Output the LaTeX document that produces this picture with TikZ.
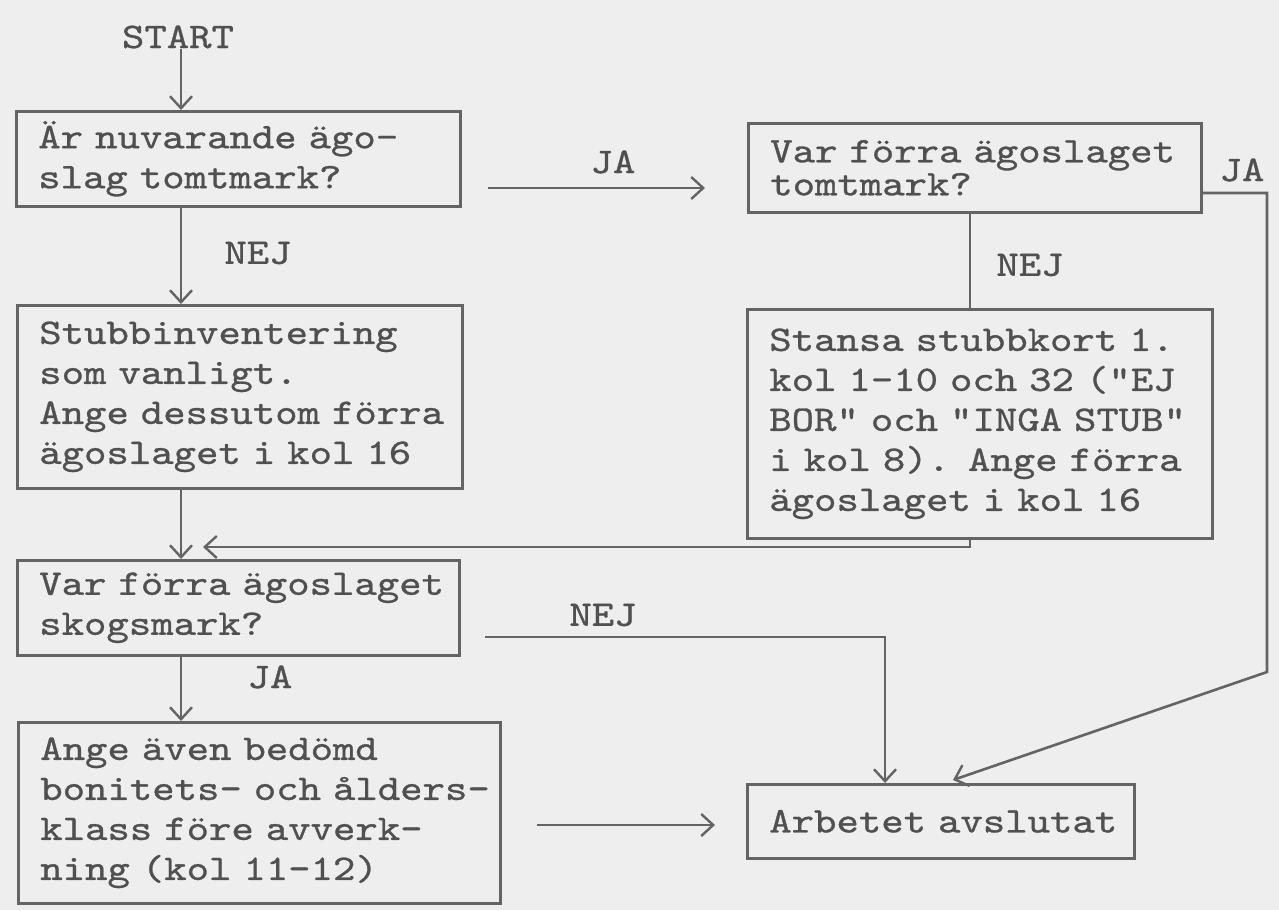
\documentclass[tikz,border=0pt]{standalone}
\usepackage{fontspec}
\usetikzlibrary{arrows.meta}
\newfontfamily\tw{lmmono10-regular.otf}[FakeStretch=1.185, FakeBold=0.8]
\newcommand\typeline[1]{\mbox{#1}}
\definecolor{bgc}{RGB}{238,238,238}
\definecolor{linec}{RGB}{100,100,100}
\definecolor{textc}{RGB}{80,80,80}
\begin{document}
\begin{tikzpicture}[x=1pt,y=-1pt,
  every node/.style={text=textc},
  txt/.style={font=\tw\fontsize{36}{40}\selectfont, inner sep=0pt},
  box/.style={draw=linec, line width=2.6pt, font=\tw\fontsize{36}{40}\selectfont,
    align=left, inner xsep=22pt, inner ysep=0pt, anchor=north west},
  conn/.style={draw=linec, line width=2.6pt},
  arr/.style={conn, -{Straight Barb[length=12pt,width=22pt,line width=2.4pt]}}]
\fill[bgc] (0,0) rectangle (1279,910);
\useasboundingbox (0,0) rectangle (1279,910);

% nodes
\node[txt] (start) at (178,37) {START};
\node[box, text width=400pt, minimum height=95pt] (b1) at (15,110)
  {\typeline{Är nuvarande ägo-}\\\typeline{slag tomtmark?}};
\node[box, text width=409pt, minimum height=89pt,
  font=\tw\fontsize{36}{33}\selectfont] (b2) at (747,122)
  {\typeline{Var förra ägoslaget}\\\typeline{tomtmark?}};
\node[box, text width=401pt, minimum height=183pt] (b3) at (16,304)
  {\typeline{Stubbinventering}\\\typeline{som vanligt.}\\\typeline{Ange dessutom förra}\\\typeline{ägoslaget i kol 16}};
\node[box, text width=421pt, minimum height=229pt] (b6) at (746,308)
  {\typeline{Stansa stubbkort 1.}\\\typeline{kol 1-10 och 32 ("EJ}\\\typeline{BOR" och "INGA STUB"}\\\typeline{i kol 8). Ange förra}\\\typeline{ägoslaget i kol 16}};
\node[box, text width=398pt, minimum height=95pt] (b4) at (16,559)
  {\typeline{Var förra ägoslaget}\\\typeline{skogsmark?}};
\node[box, text width=438pt, minimum height=181pt] (b5) at (17,721)
  {\typeline{Ange även bedömd}\\\typeline{bonitets- och ålders-}\\\typeline{klass före avverk-}\\\typeline{ning (kol 11-12)}};
\node[box, text width=343pt, minimum height=74pt] (b7) at (746,783)
  {\typeline{Arbetet avslutat}};

% labels
\node[txt] (l1) at (258,253) {NEJ};
\node[txt] (l2) at (613,162) {JA};
\node[txt] (l3) at (1242,170) {JA};
\node[txt] (l4) at (1030,265) {NEJ};
\node[txt] (l5) at (603,615) {NEJ};
\node[txt] (l6) at (270,677) {JA};

% helper coordinates
\coordinate (col) at (181,0);
\coordinate (nejx) at (970,0);
\coordinate (ja1s) at (488,188);
\coordinate (ja1e) at (705,188);
\coordinate (ja2y) at (0,193);
\coordinate (ja2c) at (1267,193);
\coordinate (ja2d) at (1267,672);
\coordinate (ja2t) at (953,780);
\coordinate (rety) at (0,547);
\coordinate (rett) at (203,547);
\coordinate (nejs) at (485,637);
\coordinate (nejc) at (885,637);
\coordinate (b5s) at (537,825);
\coordinate (b5e) at (715,825);

% connectors
\draw[arr] (start.south -| col) -- (b1.north -| col);
\draw[arr] (b1.south -| col) -- (b3.north -| col);
\draw[arr] (b3.south -| col) -- (b4.north -| col);
\draw[arr] (b4.south -| col) -- (b5.north -| col);
\draw[arr] (ja1s) -- (ja1e);
\draw[conn] (b2.south -| nejx) -- (b6.north -| nejx);
\draw[arr] (b2.east |- ja2y) -- (ja2c) -- (ja2d) -- (ja2t);
\draw[arr] (b6.south -| nejx) -- (nejx |- rety) -- (rett);
\draw[arr] (nejs) -- (nejc) -- (b7.north -| nejc);
\draw[arr] (b5s) -- (b5e);
\end{tikzpicture}
\end{document}
